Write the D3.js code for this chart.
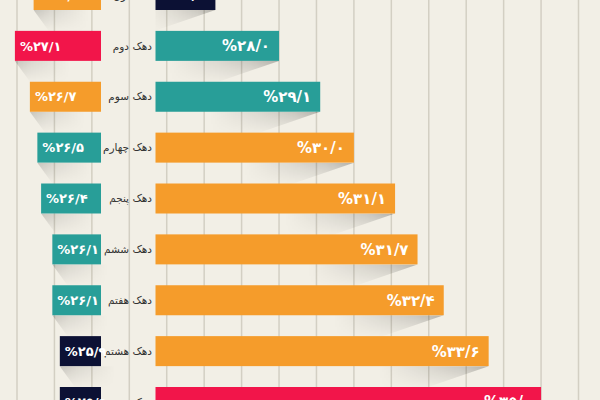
<!DOCTYPE html>
<html><head><meta charset="utf-8">
<script src="https://cdn.jsdelivr.net/npm/d3@7"></script>
<style>html,body{margin:0;padding:0;background:#F2EFE6;overflow:hidden}</style>
</head><body><svg id="c" width="600" height="400"></svg>
<script>
const categories = ["دهک اول","دهک دوم","دهک سوم","دهک چهارم","دهک پنجم","دهک ششم","دهک هفتم","دهک هشتم","دهک نهم"];
const leftValues = [26.6, 27.1, 26.7, 26.5, 26.4, 26.1, 26.1, 25.9, 25.9];
const rightValues = [26.3, 28.0, 29.1, 30.0, 31.1, 31.7, 32.4, 33.6, 35.0];
const gridTicks = d3.range(21, 37);

const C = {orange:"#F59C2B", teal:"#289E98", red:"#F2154A", navy:"#0C1134"};
const leftColors = [C.orange, C.red, C.orange, C.teal, C.teal, C.teal, C.teal, C.navy, C.navy];
const rightColors = [C.navy, C.teal, C.teal, C.orange, C.orange, C.orange, C.orange, C.orange, C.red];

const svg = d3.select("#c");
const W = 600, H = 400;
const k = 561.5/15;
const xR = d3.scaleLinear().domain([21, 36]).range([17, 578.5]);
const rightBase = 24.7;
const xL = d3.scaleLinear().domain([24.8, 35]).range([101, 101 - 10.2*k]);
const y = d3.scalePoint().domain(categories).range([-5, 402]);
const bh = 30;

const fa = v => ("%" + v.toFixed(1)).replace(".", "/").replace(/\d/g, d => "۰۱۲۳۴۵۶۷۸۹"[+d]);

svg.append("rect").attr("width", W).attr("height", H).attr("fill", "#F2EFE6");

const defs = svg.append("defs");
const gR = defs.append("linearGradient").attr("id","shR").attr("x1",0).attr("x2",1).attr("y1",0).attr("y2",0);
gR.append("stop").attr("offset",0).attr("stop-color","#000").attr("stop-opacity",0);
gR.append("stop").attr("offset",0.75).attr("stop-color","#000").attr("stop-opacity",0.16);
gR.append("stop").attr("offset",1).attr("stop-color","#000").attr("stop-opacity",0.26);
const gL = defs.append("linearGradient").attr("id","shL").attr("x1",1).attr("x2",0).attr("y1",0).attr("y2",0);
gL.append("stop").attr("offset",0).attr("stop-color","#000").attr("stop-opacity",0);
gL.append("stop").attr("offset",0.7).attr("stop-color","#000").attr("stop-opacity",0.1);
gL.append("stop").attr("offset",1).attr("stop-color","#000").attr("stop-opacity",0.18);
const gV = defs.append("linearGradient").attr("id","fadeV").attr("x1",0).attr("x2",0).attr("y1",0).attr("y2",1);
gV.append("stop").attr("offset",0).attr("stop-color","#fff").attr("stop-opacity",1);
gV.append("stop").attr("offset",1).attr("stop-color","#fff").attr("stop-opacity",0);
defs.append("mask").attr("id","mV").attr("maskContentUnits","objectBoundingBox")
  .append("rect").attr("width",1).attr("height",1).attr("fill","url(#fadeV)");

// gridlines
svg.append("g").selectAll("line").data(gridTicks).join("line")
  .attr("x1", d => xR(d)).attr("x2", d => xR(d)).attr("y1", 0).attr("y2", H)
  .attr("stroke", "#D3CFC3").attr("stroke-width", 1.5);

const rows = categories.map((c, i) => ({c, l: leftValues[i], r: rightValues[i], lc: leftColors[i], rc: rightColors[i]}));

// shadows
const sh = svg.append("g");
rows.forEach(d => {
  const b = y(d.c) + bh/2;
  const xe = xR(d.r);
  const xs = Math.max(xR(rightBase), xe - 110);
  sh.append("path")
    .attr("d", `M${xs},${b} L${xe},${b} L${xe-70},${b+24} L${xs},${b+24} Z`)
    .attr("fill", "url(#shR)").attr("mask", "url(#mV)");
  const ls = xL(d.l);
  sh.append("path")
    .attr("d", `M${ls},${b} L${ls+55},${b} L${ls+55},${b+22} L${ls+16},${b+22} Z`)
    .attr("fill", "url(#shL)").attr("mask", "url(#mV)");
});

// bars
svg.append("g").selectAll("rect").data(rows).join("rect")
  .attr("x", xR(rightBase)).attr("y", d => y(d.c) - bh/2)
  .attr("width", d => xR(d.r) - xR(rightBase)).attr("height", bh)
  .attr("fill", d => d.rc);
svg.append("g").selectAll("rect").data(rows).join("rect")
  .attr("x", d => xL(d.l)).attr("y", d => y(d.c) - bh/2)
  .attr("width", d => xL(24.8) - xL(d.l)).attr("height", bh)
  .attr("fill", d => d.lc);

// category labels
svg.append("g").selectAll("text").data(rows).join("text")
  .attr("x", 152).attr("y", d => y(d.c)).attr("dy", "0.35em")
  .attr("text-anchor", "end").attr("font-family", "DejaVu Sans, sans-serif")
  .attr("font-size", 10.5).attr("fill", "#333")
  .text(d => d.c);

// value labels
svg.append("g").selectAll("text").data(rows).join("text")
  .attr("x", d => xR(d.r) - 9).attr("y", d => y(d.c)).attr("dy", "0.36em")
  .attr("text-anchor", "end").attr("direction", "ltr")
  .attr("font-family", "DejaVu Sans, sans-serif").attr("font-weight", "bold")
  .attr("font-size", 15).attr("fill", "#fff")
  .text(d => fa(d.r));
svg.append("g").selectAll("text").data(rows).join("text")
  .attr("x", d => xL(d.l) + 5).attr("y", d => y(d.c)).attr("dy", "0.36em")
  .attr("text-anchor", "start").attr("direction", "ltr")
  .attr("font-family", "DejaVu Sans, sans-serif").attr("font-weight", "bold")
  .attr("font-size", 13).attr("fill", "#fff")
  .text(d => fa(d.l));
</script></body></html>
